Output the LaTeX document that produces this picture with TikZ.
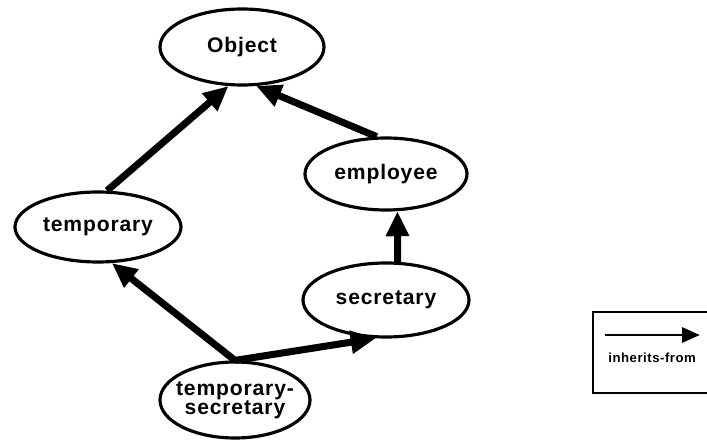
\documentclass[tikz,border=0pt]{standalone}
\usepackage{fontspec}
\setsansfont{Liberation Sans}[LetterSpace=4]
\usetikzlibrary{shapes.geometric,arrows.meta}

\tikzset{
  cls/.style={ellipse, draw, line width=1.8pt, inner sep=0pt,
    font=\sffamily\bfseries\fontsize{12}{12}\selectfont, align=center},
  inh/.style={line width=4pt, -{Triangle[length=0.5cm,width=0.44cm]}}
}

\begin{document}
\begin{tikzpicture}
  \useasboundingbox (0,0) rectangle (14.14,8.8);
  \node[cls, minimum width=3.28cm, minimum height=1.52cm] (object) at (4.84,7.86) {Object};
  \node[cls, minimum width=3.32cm, minimum height=1.40cm] (temporary) at (1.96,4.26) {temporary};
  \node[cls, minimum width=3.24cm, minimum height=1.44cm] (employee) at (7.72,5.32) {employee};
  \node[cls, minimum width=3.32cm, minimum height=1.48cm] (secretary) at (7.72,2.80) {secretary};
  \node[cls, minimum width=3.0cm, minimum height=1.52cm, inner xsep=-12pt, inner ysep=-4pt] (tmpsec) at (4.70,0.80)
    {temporary-\\[-1pt]secretary};
  % inheritance links
  \draw[inh] (temporary.76) -- (object.-109);
  \draw[inh] (employee.104) -- (object.-70);
  \draw[inh] (secretary.73) -- (employee.-73);
  \draw[inh] (tmpsec.north) -- (temporary.-69);
  \draw[inh] (tmpsec.north) -- (secretary.-105);
  % legend
  \draw[line width=1.7pt] (11.86,0.94) rectangle (14.3,2.56);
  \coordinate (lgfrom) at (12.10,2.10);
  \coordinate (lgto) at (14.0,2.10);
  \draw[line width=1.7pt, -{Triangle[length=0.36cm,width=0.3cm]}] (lgfrom) -- (lgto);
  \node[anchor=west, inner sep=0pt, font=\sffamily\bfseries\fontsize{7.5}{8}\selectfont] (lglabel) at (12.16,1.64) {inherits-from};
\end{tikzpicture}
\end{document}
